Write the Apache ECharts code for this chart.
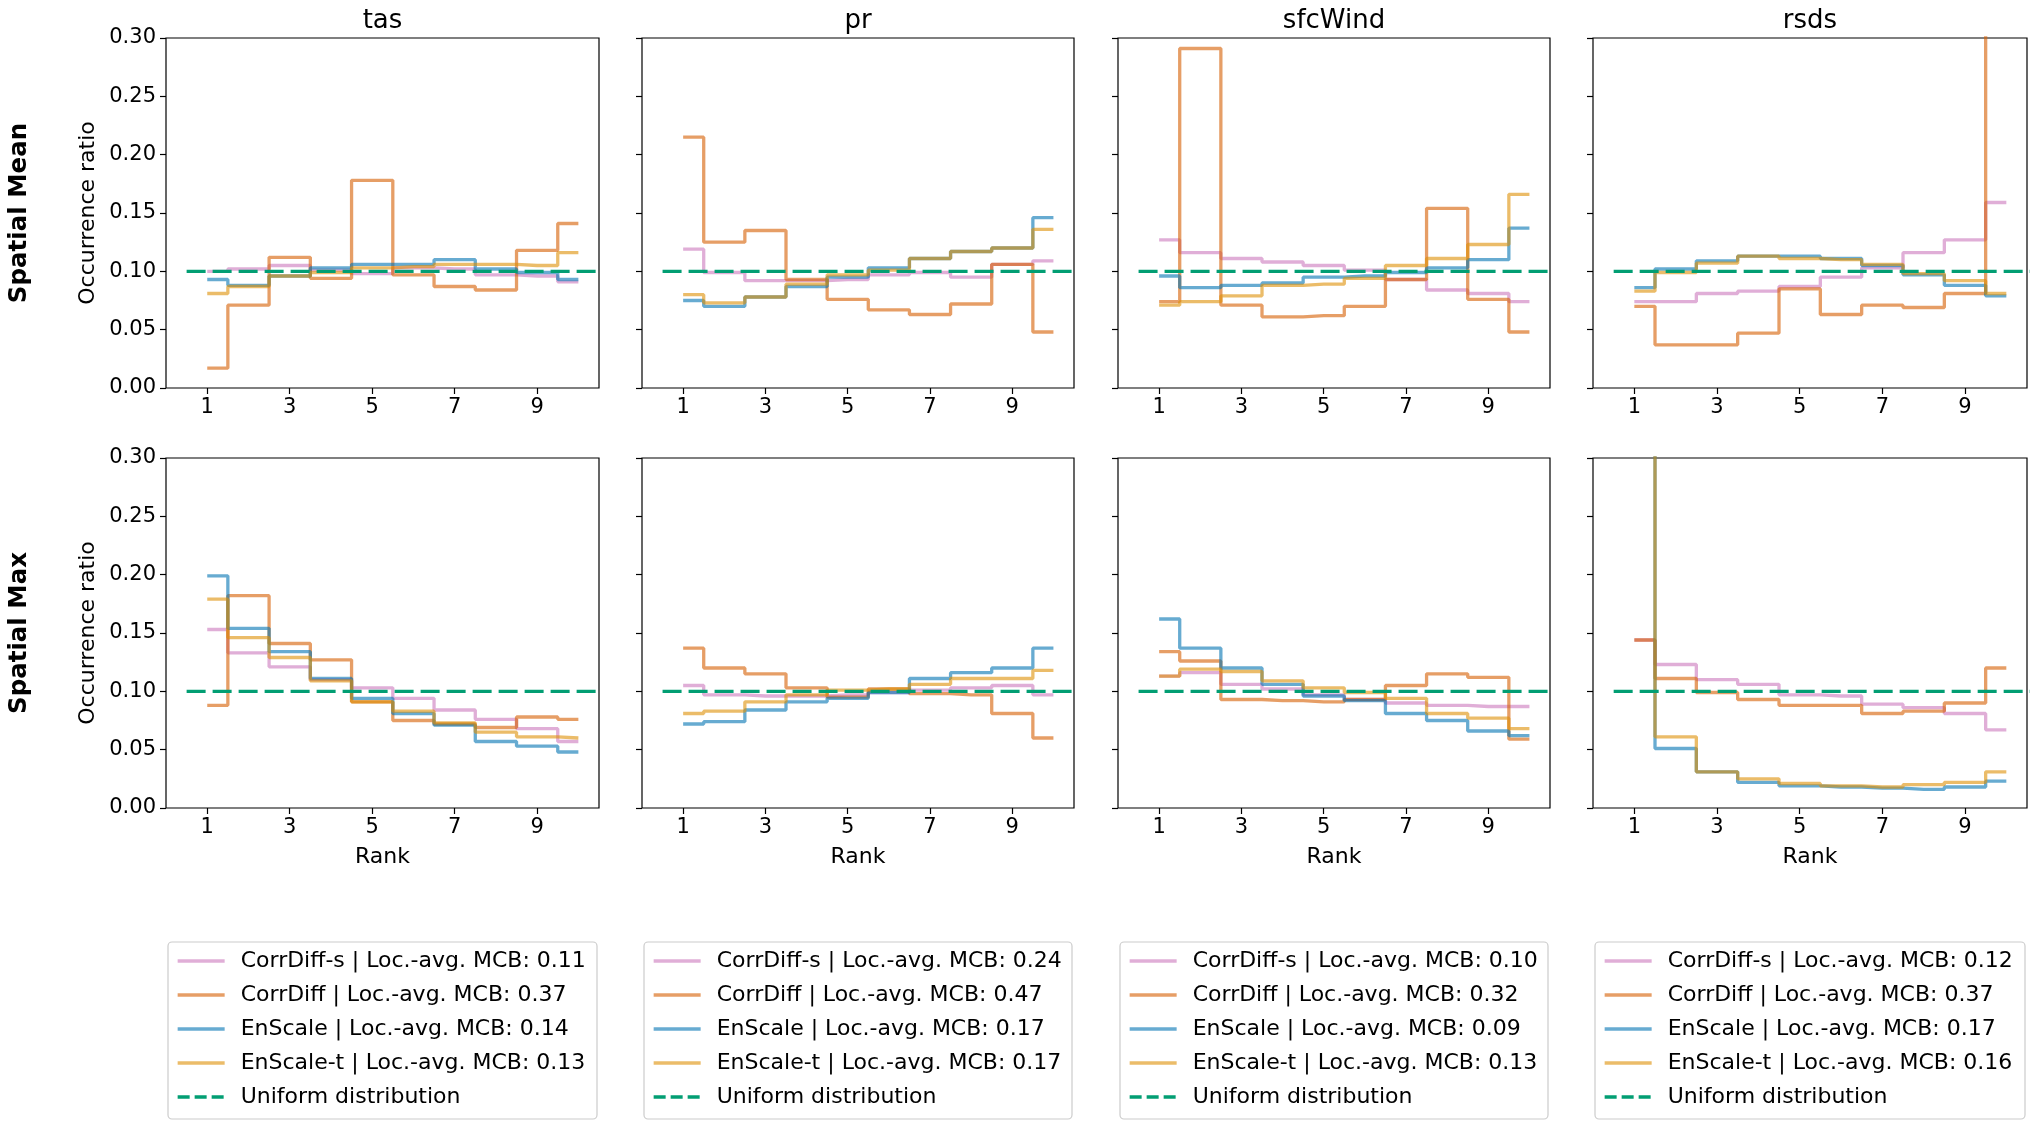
<!DOCTYPE html>
<html><head><meta charset="utf-8">
<script src="https://cdn.jsdelivr.net/npm/echarts@6/dist/echarts.min.js"></script>
<style>html,body{margin:0;padding:0;background:#fff}#chart{width:2036px;height:1129px}</style>
</head><body><div id="chart"></div>
<script>
// ---------------- data ----------------
const ranks = [1, 2, 3, 4, 5, 6, 7, 8, 9, 10];
const xTickValues = [1, 3, 5, 7, 9];
const variables = ['tas', 'pr', 'sfcWind', 'rsds'];
const statistics = ['Spatial Mean', 'Spatial Max'];
const models = ['CorrDiff-s', 'CorrDiff', 'EnScale', 'EnScale-t'];
const uniformLabel = 'Uniform distribution';
const uniformRatio = 0.1;
const uniformSpan = [0.5, 11];

const mcbTas = [0.11, 0.37, 0.14, 0.13];
const mcbPr = [0.24, 0.47, 0.17, 0.17];
const mcbSfcWind = [0.10, 0.32, 0.09, 0.13];
const mcbRsds = [0.12, 0.37, 0.17, 0.16];

// rows: CorrDiff-s, CorrDiff, EnScale, EnScale-t
const meanTas = [
  [0.100, 0.102, 0.105, 0.101, 0.098, 0.103, 0.102, 0.097, 0.096, 0.091],
  [0.017, 0.071, 0.112, 0.094, 0.178, 0.097, 0.087, 0.084, 0.118, 0.141],
  [0.093, 0.088, 0.096, 0.103, 0.106, 0.106, 0.110, 0.102, 0.099, 0.093],
  [0.081, 0.087, 0.096, 0.099, 0.103, 0.104, 0.106, 0.106, 0.105, 0.116]
];
const meanPr = [
  [0.119, 0.099, 0.092, 0.092, 0.093, 0.097, 0.099, 0.095, 0.106, 0.109],
  [0.215, 0.125, 0.135, 0.093, 0.076, 0.067, 0.063, 0.072, 0.106, 0.048],
  [0.075, 0.070, 0.078, 0.087, 0.095, 0.103, 0.111, 0.117, 0.120, 0.146],
  [0.080, 0.073, 0.078, 0.089, 0.097, 0.101, 0.111, 0.117, 0.120, 0.136]
];
const meanSfcWind = [
  [0.127, 0.116, 0.111, 0.108, 0.105, 0.101, 0.093, 0.084, 0.081, 0.074],
  [0.074, 0.291, 0.071, 0.061, 0.062, 0.070, 0.093, 0.154, 0.076, 0.048],
  [0.096, 0.086, 0.088, 0.090, 0.095, 0.096, 0.099, 0.103, 0.110, 0.137],
  [0.071, 0.074, 0.079, 0.088, 0.089, 0.094, 0.105, 0.111, 0.123, 0.166]
];
const meanRsds = [
  [0.074, 0.074, 0.081, 0.083, 0.087, 0.095, 0.103, 0.116, 0.127, 0.159],
  [0.070, 0.037, 0.037, 0.047, 0.085, 0.063, 0.071, 0.069, 0.081, 0.340],
  [0.086, 0.102, 0.109, 0.113, 0.113, 0.111, 0.105, 0.097, 0.088, 0.079],
  [0.083, 0.099, 0.107, 0.113, 0.111, 0.110, 0.106, 0.098, 0.092, 0.081]
];
const maxTas = [
  [0.153, 0.133, 0.121, 0.110, 0.103, 0.094, 0.084, 0.076, 0.068, 0.057],
  [0.088, 0.182, 0.141, 0.127, 0.091, 0.075, 0.072, 0.069, 0.078, 0.076],
  [0.199, 0.154, 0.134, 0.111, 0.094, 0.081, 0.071, 0.057, 0.053, 0.048],
  [0.179, 0.146, 0.129, 0.109, 0.091, 0.083, 0.073, 0.065, 0.061, 0.060]
];
const maxPr = [
  [0.105, 0.097, 0.096, 0.096, 0.097, 0.099, 0.101, 0.103, 0.105, 0.097],
  [0.137, 0.120, 0.115, 0.103, 0.095, 0.102, 0.098, 0.097, 0.081, 0.060],
  [0.072, 0.074, 0.084, 0.091, 0.094, 0.099, 0.111, 0.116, 0.120, 0.137],
  [0.081, 0.083, 0.091, 0.097, 0.101, 0.102, 0.106, 0.111, 0.111, 0.118]
];
const maxSfcWind = [
  [0.113, 0.116, 0.106, 0.102, 0.097, 0.093, 0.090, 0.088, 0.087, 0.087],
  [0.134, 0.126, 0.093, 0.092, 0.091, 0.093, 0.105, 0.115, 0.112, 0.059],
  [0.162, 0.137, 0.120, 0.106, 0.096, 0.092, 0.081, 0.075, 0.066, 0.062],
  [0.113, 0.119, 0.117, 0.109, 0.103, 0.099, 0.094, 0.081, 0.077, 0.068]
];
const maxRsds = [
  [0.144, 0.123, 0.110, 0.106, 0.097, 0.096, 0.089, 0.086, 0.081, 0.067],
  [0.144, 0.111, 0.099, 0.093, 0.088, 0.088, 0.081, 0.083, 0.090, 0.120],
  [0.450, 0.051, 0.031, 0.022, 0.019, 0.018, 0.017, 0.016, 0.018, 0.023],
  [0.450, 0.061, 0.031, 0.025, 0.021, 0.019, 0.018, 0.020, 0.022, 0.031]
];

// ---------------- layout / style ----------------
const panelData = [[meanTas, meanPr, meanSfcWind, meanRsds], [maxTas, maxPr, maxSfcWind, maxRsds]];
const mcbAll = [mcbTas, mcbPr, mcbSfcWind, mcbRsds];
const modelColors = ['#cc78bc', '#d55e00', '#0173b2', '#de8f05'];
const uniformColor = '#029e73';
const panelLefts = [166, 642, 1118, 1593];
const panelWidths = [433, 432, 432, 434];
const panelTops = [38, 458];
const panelHeight = 350;
const FONT = 'DejaVu Sans';
const LW = 3.3;

const grids = [], xAxes = [], yAxes = [], series = [], legends = [], graphics = [];

for (let r = 0; r < 2; r++) {
  for (let c = 0; c < 4; c++) {
    const idx = r * 4 + c;
    grids.push({left: panelLefts[c], top: panelTops[r], width: panelWidths[c], height: panelHeight,
      show: true, borderColor: '#000', borderWidth: 1.2, backgroundColor: 'transparent', containLabel: false});
    xAxes.push({type: 'value', gridIndex: idx, min: 0, max: 10.5,
      name: r === 1 ? 'Rank' : '', nameLocation: 'middle', nameGap: 38,
      nameTextStyle: {fontSize: 22, color: '#000', fontFamily: FONT},
      axisLine: {show: false}, splitLine: {show: false},
      axisTick: {show: true, inside: false, length: 6, customValues: xTickValues, lineStyle: {color: '#000', width: 1.2}},
      axisLabel: {show: true, customValues: xTickValues, margin: 9, fontSize: 21, color: '#000', fontFamily: FONT}
    });
    yAxes.push({type: 'value', gridIndex: idx, min: 0, max: 0.3, interval: 0.05,
      name: c === 0 ? 'Occurrence ratio' : '', nameLocation: 'middle', nameGap: 67, nameRotate: 90,
      nameTextStyle: {fontSize: 22, color: '#000', fontFamily: FONT},
      axisLine: {show: false}, splitLine: {show: false},
      axisTick: {show: true, inside: false, length: 6, lineStyle: {color: '#000', width: 1.2}},
      axisLabel: {show: c === 0, margin: 10, fontSize: 21, color: '#000', fontFamily: FONT,
        formatter: v => v.toFixed(2)}
    });
    const vals = panelData[r][c];
    models.forEach((m, mi) => {
      series.push({
        type: 'line', name: `${m} | Loc.-avg. MCB: ${mcbAll[c][mi].toFixed(2)}`,
        xAxisIndex: idx, yAxisIndex: idx, step: 'middle', symbol: 'none', clip: true,
        data: ranks.map((x, i) => [x, vals[mi][i]]),
        lineStyle: {color: modelColors[mi], width: LW, opacity: 0.6},
        itemStyle: {color: modelColors[mi], opacity: 0.6},
        z: 2 + mi, silent: true, animation: false
      });
    });
    series.push({
      type: 'line', name: uniformLabel, xAxisIndex: idx, yAxisIndex: idx, symbol: 'none', clip: true,
      data: uniformSpan.map(x => [x, uniformRatio]),
      lineStyle: {color: uniformColor, width: LW, type: [19, 7]},
      itemStyle: {color: uniformColor}, z: 7, silent: true, animation: false
    });
  }
}

for (let c = 0; c < 4; c++) {
  const names = models.map((m, mi) => `${m} | Loc.-avg. MCB: ${mcbAll[c][mi].toFixed(2)}`);
  legends.push({
    orient: 'vertical', left: panelLefts[c] + 10, top: 949, padding: 0,
    itemWidth: 47, itemHeight: 14, itemGap: 10, selectedMode: false,
    itemStyle: {opacity: 0},
    lineStyle: {width: LW},
    textStyle: {fontSize: 22, lineHeight: 24, color: '#000', fontFamily: FONT, padding: [0, 0, 0, 11]},
    data: names.map(n => ({name: n})).concat([{name: uniformLabel, lineStyle: {type: [12, 5], width: LW}}])
  });
  graphics.push({type: 'rect', shape: {x: panelLefts[c] + 2, y: 942, width: panelWidths[c] - 4, height: 177, r: 4},
    style: {fill: '#fff', stroke: '#cccccc', lineWidth: 1.2}, z: -1, silent: true});
  graphics.push({type: 'text', x: panelLefts[c] + panelWidths[c] / 2, y: 8,
    style: {text: variables[c], fontSize: 26, fontFamily: FONT, fill: '#000', textAlign: 'center', textVerticalAlign: 'top'}});
}
statistics.forEach((s, r) => {
  graphics.push({type: 'text', x: 20, y: panelTops[r] + panelHeight / 2, rotation: Math.PI / 2,
    style: {text: s, fontSize: 24.5, fontWeight: 'bold', fontFamily: FONT, fill: '#000', textAlign: 'center', textVerticalAlign: 'middle'}});
});

const chart = echarts.init(document.getElementById('chart'), null, {renderer: 'canvas'});
chart.setOption({
  backgroundColor: '#fff', animation: false,
  grid: grids, xAxis: xAxes, yAxis: yAxes, series: series, legend: legends, graphic: graphics
});
</script></body></html>
